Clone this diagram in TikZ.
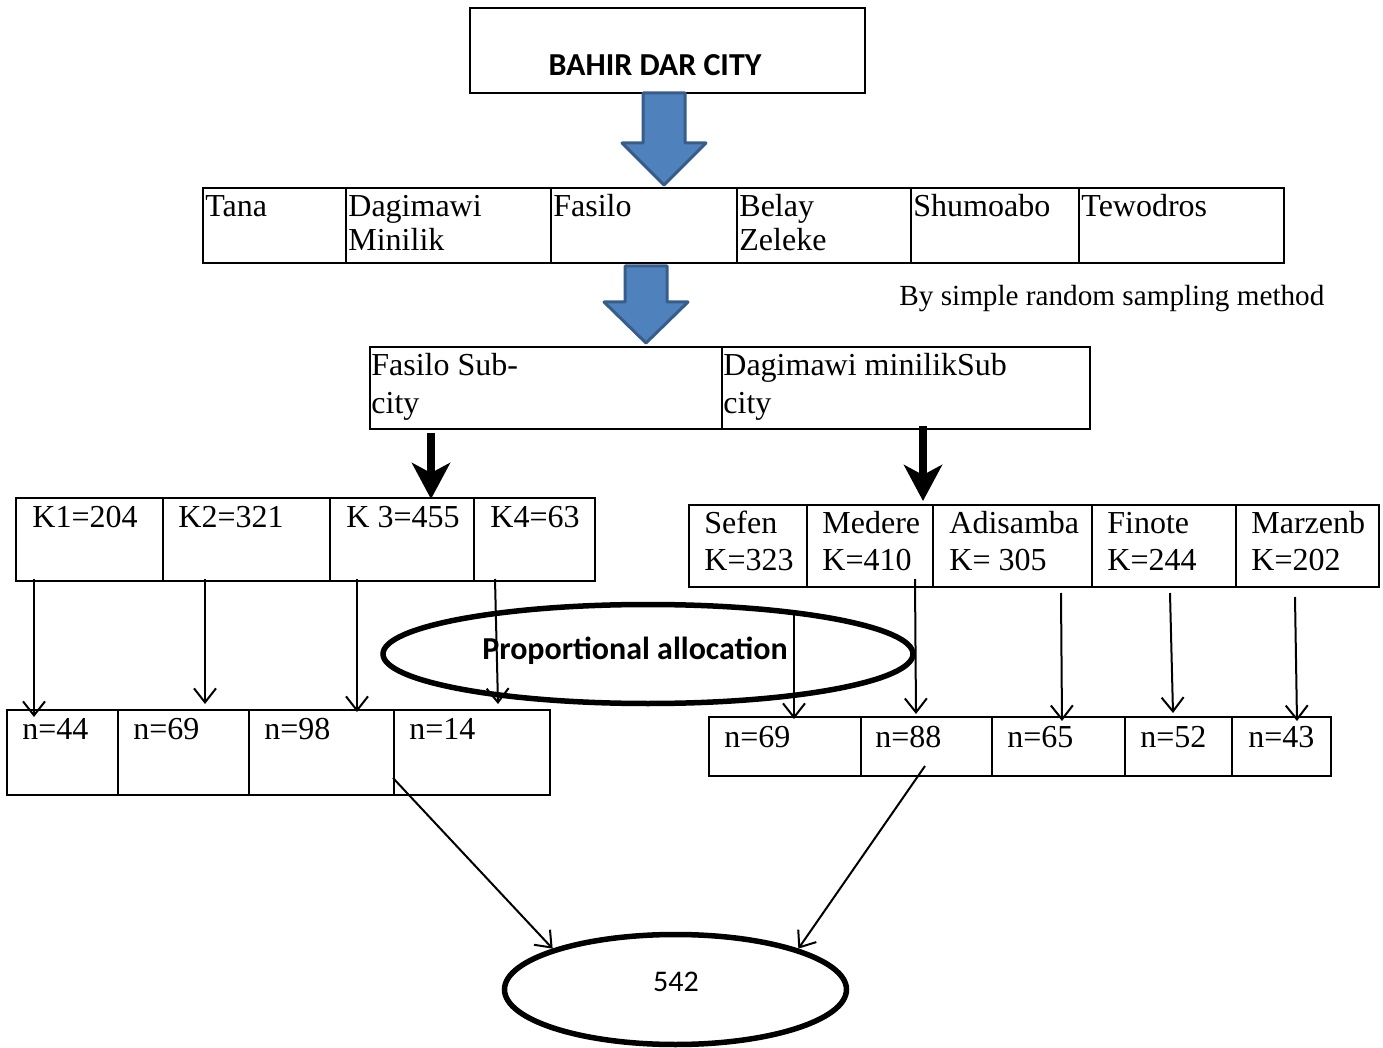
\documentclass[tikz,border=0pt]{standalone}
\usepackage{fontspec}
\setmainfont{Liberation Serif}
\newfontfamily\calibri{Carlito}
\usetikzlibrary{calc,arrows.meta,shapes.geometric}
\definecolor{arrowBlue}{HTML}{4F81BD}
\definecolor{arrowEdge}{HTML}{385D8A}

\begin{document}
\begin{tikzpicture}[
  x=0.5pt, y=-0.5pt,
  every node/.style={font=\fontsize{16pt}{17pt}\selectfont},
  cell/.style={draw, line width=1pt, inner sep=0pt},
  txt/.style={anchor=base west, inner sep=0pt, align=left},
  bold/.style={font=\calibri\bfseries\fontsize{16pt}{17pt}\selectfont, inner sep=0pt},
  oval/.style={draw, ellipse, line width=2.75pt, inner sep=0pt},
  thin/.style={line width=1pt, -{Straight Barb[length=7pt,width=11pt]}},
  thick/.style={line width=3.75pt, -{Stealth[length=18pt,width=19pt,inset=5pt]}},
  blue/.style={fill=arrowBlue, draw=arrowEdge, line width=1.5pt, line join=round},
]
\useasboundingbox (0,0) rectangle (1383,1048);

% --- Top box ---
\node[cell, minimum width=197.5pt, minimum height=42.5pt] (city) at (667.5,50.5) {};
\node[bold] (city-t) at (655,65) {BAHIR DAR CITY};

% --- Blue arrows ---
\draw[blue] (643,93) -- (685,93) -- (685,143) -- (706,143) -- (664,185)
  -- (622,143) -- (643,143) -- cycle;
\draw[blue] (625,266) -- (667,266) -- (667,302) -- (688,302) -- (646,343)
  -- (604,302) -- (625,302) -- cycle;

% --- Sub-cities ---
\foreach \nm/\xa/\xb in {tana/203/346, dagim/346/551, fasilo/551/737,
                         belay/737/911, shumo/911/1079, tewo/1079/1284} {
  \pgfmathsetmacro\w{(\xb-\xa)*0.5}
  \node[cell, minimum width=\w pt, minimum height=37.5pt] (\nm) at ({(\xa+\xb)/2},225.5) {};
}
\node[txt] (tana-t)   at (205,217)  {Tana};
\node[txt] (dagim-t)  at (348,251)  {Dagimawi\\Minilik};
\node[txt] (fasilo-t) at (553,217)  {Fasilo};
\node[txt] (belay-t)  at (739,251)  {Belay\\Zeleke};
\node[txt] (shumo-t)  at (913,217)  {Shumoabo};
\node[txt] (tewo-t)   at (1081,217) {Tewodros};

\node[txt, font=\fontsize{14.6pt}{17pt}\selectfont] (method) at (899,306) {By simple random sampling method};

% --- Selected sub-cities ---
\foreach \nm/\xa/\xb in {fsub/370/722, dsub/722/1090} {
  \pgfmathsetmacro\w{(\xb-\xa)*0.5}
  \node[cell, minimum width=\w pt, minimum height=41pt] (\nm) at ({(\xa+\xb)/2},388) {};
}
\node[txt, font=\fontsize{16pt}{19pt}\selectfont] (fsub-t) at (371,414) {Fasilo Sub-\\city};
\node[txt, font=\fontsize{16pt}{19pt}\selectfont] (dsub-t) at (723,414) {Dagimawi minilikSub\\city};

% --- Kebeles ---
\foreach \nm/\xa/\xb in {k1/16/163, k2/163/330, k3/330/474, k4/474/595} {
  \pgfmathsetmacro\w{(\xb-\xa)*0.5}
  \node[cell, minimum width=\w pt, minimum height=41.5pt] (\nm) at ({(\xa+\xb)/2},539.5) {};
}
\foreach \nm/\xa/\xb in {sefen/689/807, medere/807/933, adis/933/1092,
                         finote/1092/1236, marz/1236/1379} {
  \pgfmathsetmacro\w{(\xb-\xa)*0.5}
  \node[cell, minimum width=\w pt, minimum height=41pt] (\nm) at ({(\xa+\xb)/2},546) {};
}
\node[txt] (k1-t) at (32,528)  {K1=204};
\node[txt] (k2-t) at (178,528) {K2=321};
\node[txt] (k3-t) at (346,528) {K 3=455};
\node[txt] (k4-t) at (490,528) {K4=63};
\foreach \nm/\xt/\lbl in {sefen/704/{Sefen\\K=323}, medere/822/{Medere\\K=410},
                          adis/949/{Adisamba\\K= 305}, finote/1107/{Finote\\K=244},
                          marz/1251/{Marzenb\\K=202}} {
  \node[txt, font=\fontsize{16pt}{18.5pt}\selectfont] (\nm-t) at (\xt,570) {\lbl};
}

% --- Samples ---
\foreach \nm/\xa/\xb in {n1/7/118, n2/118/249, n3/249/394, n4/394/550} {
  \pgfmathsetmacro\w{(\xb-\xa)*0.5}
  \node[cell, minimum width=\w pt, minimum height=42.5pt] (\nm) at ({(\xa+\xb)/2},752.5) {};
}
\foreach \nm/\xa/\xb in {m1/709/861, m2/861/992, m3/992/1125, m4/1125/1232, m5/1232/1331} {
  \pgfmathsetmacro\w{(\xb-\xa)*0.5}
  \node[cell, minimum width=\w pt, minimum height=29.5pt] (\nm) at ({(\xa+\xb)/2},746.5) {};
}
\foreach \nm/\xt/\lbl in {n1/22/44, n2/133/69, n3/264/98, n4/409/14} {
  \node[txt] (\nm-t) at (\xt,739) {n=\lbl};
}
\foreach \nm/\xt/\lbl in {m1/724/69, m2/875/88, m3/1007/65, m4/1140/52, m5/1248/43} {
  \node[txt] (\nm-t) at (\xt,747) {n=\lbl};
}

% --- Ovals ---
\node[oval, minimum width=265pt, minimum height=49.5pt] (prop) at (648,654) {};
\node[bold] (prop-t) at (635,651) {Proportional allocation};
\node[oval, minimum width=171pt, minimum height=55pt] (total) at (675.5,989.5) {};
\node[font=\calibri\fontsize{15pt}{17pt}\selectfont, inner sep=0pt] (total-t) at (676,982) {542};

% --- Thick arrows ---
\draw[thick] ($(fsub.south west)+(62,3)$)  -- ($(k3.north west)+(102,2)$);
\draw[thick] ($(dsub.south west)+(202,-4)$) -- ($(medere.north west)+(117,-3)$);

% --- Allocation arrows ---
\draw[thin] ($(k1.south west)+(19,-3)$) -- ($(n1.north west)+(28,8)$);
\draw[thin] ($(k2.south west)+(43,-3)$) -- ($(n2.north west)+(88,-5)$);
\draw[thin] ($(k3.south west)+(28,-3)$) -- ($(n3.north west)+(109,3)$);
\draw[thin] ($(k4.south west)+(22,-3)$) -- ($(n4.north west)+(105,-5)$);
\draw[thin] ($(sefen.south west)+(106,25)$) -- ($(m1.north west)+(86,3)$);
\draw[thin] ($(medere.south west)+(109,-9)$) -- ($(m2.north west)+(56,-2)$);
\draw[thin] ($(adis.south west)+(129,5)$) -- ($(m3.north west)+(71,5)$);
\draw[thin] ($(finote.south west)+(79,5)$) -- ($(m4.north west)+(49,-3)$);
\draw[thin] ($(marz.south west)+(60,9)$) -- ($(m5.north west)+(66,5)$);

% --- Totals ---
\draw[thin] ($(n4.south west)+(0,-18)$) -- (total.north west);
\draw[thin] ($(m2.south west)+(65,-11)$) -- (total.north east);

\end{tikzpicture}
\end{document}
